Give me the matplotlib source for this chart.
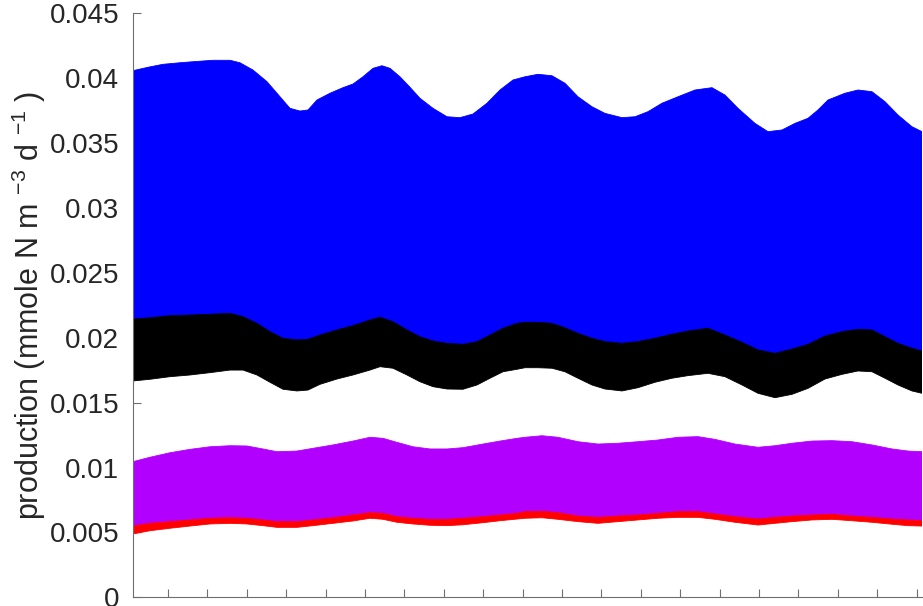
import numpy as np
import matplotlib
matplotlib.use("Agg")
import matplotlib.pyplot as plt

plt.rcParams['font.family'] = ['Liberation Sans', 'DejaVu Sans']
plt.rcParams['mathtext.fontset'] = 'custom'
plt.rcParams['mathtext.rm'] = 'Liberation Sans'
plt.rcParams['mathtext.it'] = 'Liberation Sans:italic'

# ---- data ----
x_blue = [0.112, 0.492, 0.873, 1.305, 1.635, 2.142, 2.574, 2.827, 3.157, 3.513,
          3.843, 4.096, 4.350, 4.553, 4.782, 5.112, 5.442, 5.695, 5.949, 6.203,
          6.431, 6.635, 6.888, 7.142, 7.396, 7.726, 8.081, 8.411, 8.741, 9.096,
          9.426, 9.756, 10.061, 10.391, 10.746, 11.076, 11.406, 11.761, 12.091, 12.523,
          12.853, 13.183, 13.538, 13.944, 14.376, 14.807, 15.137, 15.467, 15.898, 16.228,
          16.584, 16.914, 17.244, 17.497, 17.751, 18.183, 18.513, 18.868, 19.198, 19.528,
          19.883, 20.137]
blue_top = [0.04058, 0.04084, 0.04107, 0.04119, 0.04127, 0.04138, 0.04138, 0.04119, 0.04063, 0.03973,
            0.03857, 0.03768, 0.03747, 0.03755, 0.03832, 0.03884, 0.03927, 0.03955, 0.04011, 0.04076,
            0.04096, 0.04076, 0.04011, 0.03930, 0.03845, 0.03768, 0.03703, 0.03696, 0.03724, 0.03807,
            0.03909, 0.03986, 0.04011, 0.04030, 0.04019, 0.03961, 0.03857, 0.03780, 0.03729, 0.03696,
            0.03703, 0.03742, 0.03807, 0.03857, 0.03909, 0.03927, 0.03870, 0.03768, 0.03652, 0.03588,
            0.03601, 0.03652, 0.03691, 0.03755, 0.03832, 0.03884, 0.03909, 0.03896, 0.03819, 0.03716,
            0.03626, 0.03588]

x_black = [0.112, 0.543, 1.051, 1.558, 2.066, 2.574, 2.904, 3.259, 3.589, 3.919,
           4.274, 4.553, 4.858, 5.289, 5.695, 6.127, 6.381, 6.711, 7.066, 7.396,
           7.726, 8.081, 8.487, 8.843, 9.173, 9.503, 9.858, 10.061, 10.391, 10.746,
           11.076, 11.406, 11.761, 12.091, 12.523, 12.929, 13.360, 13.792, 14.198, 14.706,
           15.137, 15.569, 15.975, 16.406, 16.838, 17.244, 17.675, 18.107, 18.513, 18.868,
           19.198, 19.528, 19.883, 20.137]
black_top = [0.02144, 0.02154, 0.02170, 0.02175, 0.02181, 0.02188, 0.02162, 0.02111, 0.02047, 0.01996,
             0.01983, 0.01988, 0.02021, 0.02060, 0.02093, 0.02137, 0.02158, 0.02124, 0.02060, 0.02008,
             0.01975, 0.01957, 0.01949, 0.01970, 0.02021, 0.02073, 0.02111, 0.02119, 0.02119, 0.02111,
             0.02077, 0.02034, 0.01996, 0.01970, 0.01957, 0.01970, 0.01996, 0.02027, 0.02052, 0.02073,
             0.02021, 0.01965, 0.01906, 0.01880, 0.01913, 0.01949, 0.02013, 0.02047, 0.02065, 0.02060,
             0.02008, 0.01957, 0.01919, 0.01898]
black_bottom = [0.01667, 0.01680, 0.01700, 0.01713, 0.01731, 0.01751, 0.01751, 0.01713, 0.01657, 0.01603,
                0.01590, 0.01597, 0.01641, 0.01682, 0.01713, 0.01751, 0.01777, 0.01765, 0.01713, 0.01661,
                0.01623, 0.01605, 0.01603, 0.01636, 0.01688, 0.01738, 0.01757, 0.01769, 0.01769, 0.01765,
                0.01738, 0.01688, 0.01636, 0.01605, 0.01590, 0.01615, 0.01657, 0.01688, 0.01708, 0.01726,
                0.01700, 0.01636, 0.01572, 0.01538, 0.01564, 0.01610, 0.01682, 0.01718, 0.01744, 0.01738,
                0.01688, 0.01636, 0.01590, 0.01572]

x_purple = [0.112, 0.543, 1.051, 1.558, 2.066, 2.574, 3.005, 3.411, 3.766, 4.274,
            4.680, 5.188, 5.695, 6.127, 6.457, 6.812, 7.218, 7.650, 8.081, 8.487,
            8.995, 9.426, 9.858, 10.061, 10.492, 10.898, 11.406, 11.914, 12.421, 12.929,
            13.437, 13.944, 14.452, 14.883, 15.391, 15.975, 16.406, 16.838, 17.345, 17.853,
            18.360, 18.868, 19.376, 19.782, 20.137]
purple_top = [0.01045, 0.01079, 0.01114, 0.01140, 0.01160, 0.01168, 0.01166, 0.01143, 0.01122, 0.01127,
              0.01148, 0.01174, 0.01204, 0.01233, 0.01225, 0.01194, 0.01160, 0.01143, 0.01143, 0.01153,
              0.01181, 0.01204, 0.01225, 0.01233, 0.01245, 0.01233, 0.01199, 0.01181, 0.01187, 0.01199,
              0.01212, 0.01233, 0.01238, 0.01217, 0.01181, 0.01156, 0.01168, 0.01187, 0.01204, 0.01207,
              0.01199, 0.01174, 0.01143, 0.01127, 0.01122]
red_top = [0.00549, 0.00570, 0.00583, 0.00596, 0.00609, 0.00613, 0.00609, 0.00596, 0.00583, 0.00583,
           0.00596, 0.00613, 0.00634, 0.00652, 0.00647, 0.00621, 0.00609, 0.00601, 0.00601, 0.00609,
           0.00621, 0.00634, 0.00647, 0.00660, 0.00663, 0.00652, 0.00626, 0.00616, 0.00626, 0.00634,
           0.00647, 0.00660, 0.00660, 0.00642, 0.00621, 0.00603, 0.00616, 0.00626, 0.00634, 0.00640,
           0.00626, 0.00616, 0.00603, 0.00596, 0.00590]
red_bottom = [0.00488, 0.00513, 0.00532, 0.00549, 0.00565, 0.00570, 0.00565, 0.00552, 0.00539, 0.00539,
              0.00552, 0.00570, 0.00588, 0.00609, 0.00601, 0.00578, 0.00565, 0.00555, 0.00552, 0.00559,
              0.00575, 0.00590, 0.00603, 0.00609, 0.00613, 0.00601, 0.00583, 0.00570, 0.00583, 0.00596,
              0.00609, 0.00616, 0.00616, 0.00601, 0.00578, 0.00557, 0.00570, 0.00583, 0.00596, 0.00601,
              0.00590, 0.00578, 0.00563, 0.00552, 0.00549]

x_ticks = list(range(1, 21))
y_ticks = [0, 0.005, 0.01, 0.015, 0.02, 0.025, 0.03, 0.035, 0.04, 0.045]
y_ticklabels = ['0', '0.005', '0.01', '0.015', '0.02', '0.025', '0.03', '0.035', '0.04', '0.045']

BLUE = '#0000FF'
BLACK = '#000000'
PURPLE = '#B200FF'
RED = '#FF0000'
TXT = '#262626'
AXC = '#6e6e6e'


def band(ax, xa, ya, xb, yb, color):
    xs = np.concatenate([np.asarray(xa), np.asarray(xb)[::-1]])
    ys = np.concatenate([np.asarray(ya), np.asarray(yb)[::-1]])
    ax.fill(xs, ys, color=color, edgecolor=color, linewidth=0.6, zorder=2)


fig = plt.figure(figsize=(9.23, 6.06), dpi=100)
ax = fig.add_axes([133 / 923, 8.7 / 606, 789 / 923, 584 / 606])

band(ax, x_blue, blue_top, x_black, black_top, BLUE)
band(ax, x_black, black_top, x_black, black_bottom, BLACK)
band(ax, x_purple, purple_top, x_purple, red_top, PURPLE)
band(ax, x_purple, red_top, x_purple, red_bottom, RED)

ax.set_xlim(0.112, 20.137)
ax.set_ylim(0, 0.045)
ax.set_xticks(x_ticks)
ax.set_xticklabels([])
ax.set_yticks(y_ticks)
ax.set_yticklabels(y_ticklabels)

for s in ['top', 'right']:
    ax.spines[s].set_visible(False)
for s in ['left', 'bottom']:
    ax.spines[s].set_color(AXC)
    ax.spines[s].set_linewidth(0.8)
    ax.spines[s].set_zorder(3)

ax.tick_params(axis='both', direction='in', length=5.8, width=0.8, color=AXC,
               labelcolor=TXT, labelsize=20, pad=10)

ax.set_ylabel(r'production (mmole N m $^{-3}$ d $^{-1}$ )', fontsize=22, color=TXT)
ax.yaxis.set_label_coords(-0.108, 0.5)

fig.savefig('out.png', dpi=100)
